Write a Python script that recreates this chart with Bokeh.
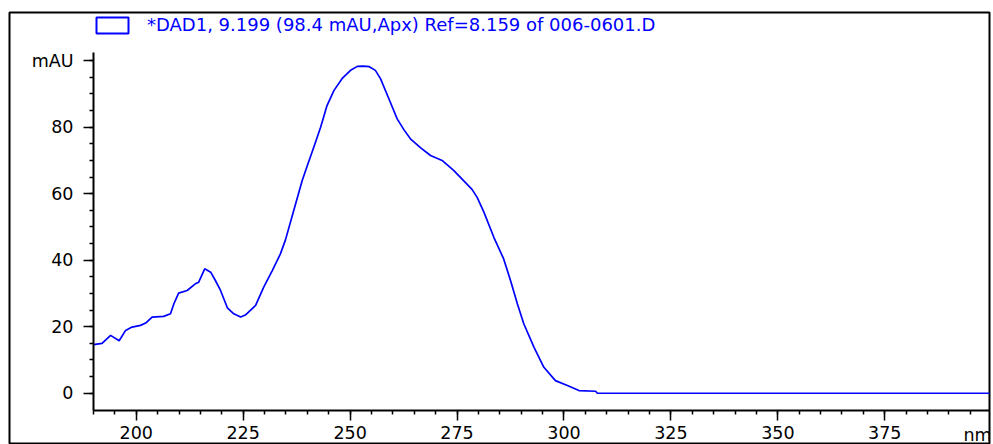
from bokeh.plotting import figure
from bokeh.models import Range1d, Label, Legend, LegendItem, FixedTicker, LinearAxis
from bokeh.embed import file_html
from bokeh.resources import INLINE

# ---- data ----
wavelength_nm = [190.0, 192.0, 194.0, 196.0, 197.5, 199.0, 201.0, 202.2, 203.7, 206.4,
                 208.0, 208.8, 209.9, 211.9, 213.8, 214.6, 216.0, 217.4, 218.5, 219.7,
                 221.3, 222.8, 224.4, 225.5, 227.9, 229.8, 231.8, 233.7, 234.9, 236.8,
                 238.8, 240.0, 241.5, 243.1, 244.6, 246.2, 248.1, 250.1, 251.7, 253.0,
                 254.5, 255.9, 257.1, 259.4, 261.0, 262.6, 264.1, 266.5, 268.8, 271.5,
                 274.2, 278.5, 279.7, 281.3, 283.6, 285.9, 287.5, 289.1, 290.6, 293.0,
                 295.3, 298.0, 300.8, 303.5, 307.4, 307.8, 400.0]
absorbance_mau = [14.6, 15.0, 17.4, 15.8, 18.9, 19.9, 20.4, 21.1, 22.9, 23.1,
                  23.9, 26.9, 30.1, 30.9, 32.9, 33.4, 37.4, 36.4, 33.9, 30.9,
                  25.7, 23.9, 22.9, 23.5, 26.4, 31.9, 36.9, 41.9, 46.2, 54.9,
                  64.0, 68.5, 74.0, 80.0, 86.5, 91.0, 94.6, 97.1, 98.3, 98.4,
                  98.2, 97.1, 94.6, 87.5, 82.5, 79.2, 76.5, 73.8, 71.5, 70.0,
                  67.0, 61.3, 58.9, 54.4, 46.9, 40.4, 33.9, 26.9, 20.9, 13.8,
                  7.8, 3.8, 2.3, 0.8, 0.6, 0.0, 0.0]

x_axis_min, x_axis_max = 190, 399.5
y_axis_min, y_axis_max = -5.2, 102.6
x_major_ticks = [200, 225, 250, 275, 300, 325, 350, 375]
x_minor_ticks = list(range(190, 401, 5))
y_major_ticks = [0, 20, 40, 60, 80, 100]
y_minor_ticks = list(range(0, 101, 5))
y_tick_overrides = {100: "mAU"}
x_unit_label = "nm"
legend_text = "*DAD1, 9.199 (98.4 mAU,Apx) Ref=8.159 of 006-0601.D"

BLUE = "#0000FF"
FONT = "DejaVu Sans"

# The frame is the outer box of the ChemStation window; the axes sit inside it.
p = figure(width=993, height=444, output_backend="svg", toolbar_location=None,
           x_range=Range1d(170.36, 399.49), y_range=Range1d(-15.42, 114.5),
           x_axis_location=None, y_axis_location=None,
           min_border_left=9, min_border_right=4, min_border_top=12, min_border_bottom=0)
p.background_fill_color = "white"
p.border_fill_color = "white"
p.outline_line_color = "black"
p.outline_line_width = 2
p.grid.visible = False

p.line(wavelength_nm, absorbance_mau, line_color=BLUE, line_width=1.7)
# hidden area renderer of the same spectrum, used only for the legend's box symbol
legend_proxy = p.quad(left=wavelength_nm, right=wavelength_nm, top=absorbance_mau,
                      bottom=0, fill_color=None, line_color=BLUE, line_width=2,
                      visible=False)

xaxis = LinearAxis(fixed_location=y_axis_min, bounds=(x_axis_min, x_axis_max),
                   ticker=FixedTicker(ticks=x_major_ticks, minor_ticks=x_minor_ticks),
                   major_label_standoff=5)
yaxis = LinearAxis(fixed_location=x_axis_min, bounds=(y_axis_min, y_axis_max),
                   ticker=FixedTicker(ticks=y_major_ticks, minor_ticks=y_minor_ticks),
                   major_label_overrides=y_tick_overrides, major_label_standoff=10)
for ax in (xaxis, yaxis):
    ax.axis_line_color = "black"
    ax.axis_line_width = 2
    ax.major_tick_line_color = "black"
    ax.minor_tick_line_color = "black"
    ax.major_tick_line_width = 1.5
    ax.minor_tick_line_width = 1.5
    ax.major_tick_in = 0
    ax.minor_tick_in = 0
    ax.major_tick_out = 10
    ax.minor_tick_out = 4
    ax.major_label_text_font = FONT
    ax.major_label_text_font_size = "17.5px"
    ax.major_label_text_color = "black"
p.add_layout(xaxis, "below")
p.add_layout(yaxis, "left")

p.add_layout(Label(x=393.4, y=-12.7, text=x_unit_label, text_align="left",
                   text_baseline="middle", text_font=FONT,
                   text_font_size="17.5px", text_color="black"))

legend = Legend(items=[LegendItem(label=legend_text, renderers=[legend_proxy])],
                location=(83, 409), margin=0, padding=2,
                glyph_width=40, glyph_height=20, label_standoff=15,
                label_text_font=FONT, label_text_font_size="18px",
                label_text_color=BLUE, background_fill_alpha=0,
                border_line_color=None)
p.add_layout(legend)

open("out.html", "w").write(file_html(p, INLINE))
